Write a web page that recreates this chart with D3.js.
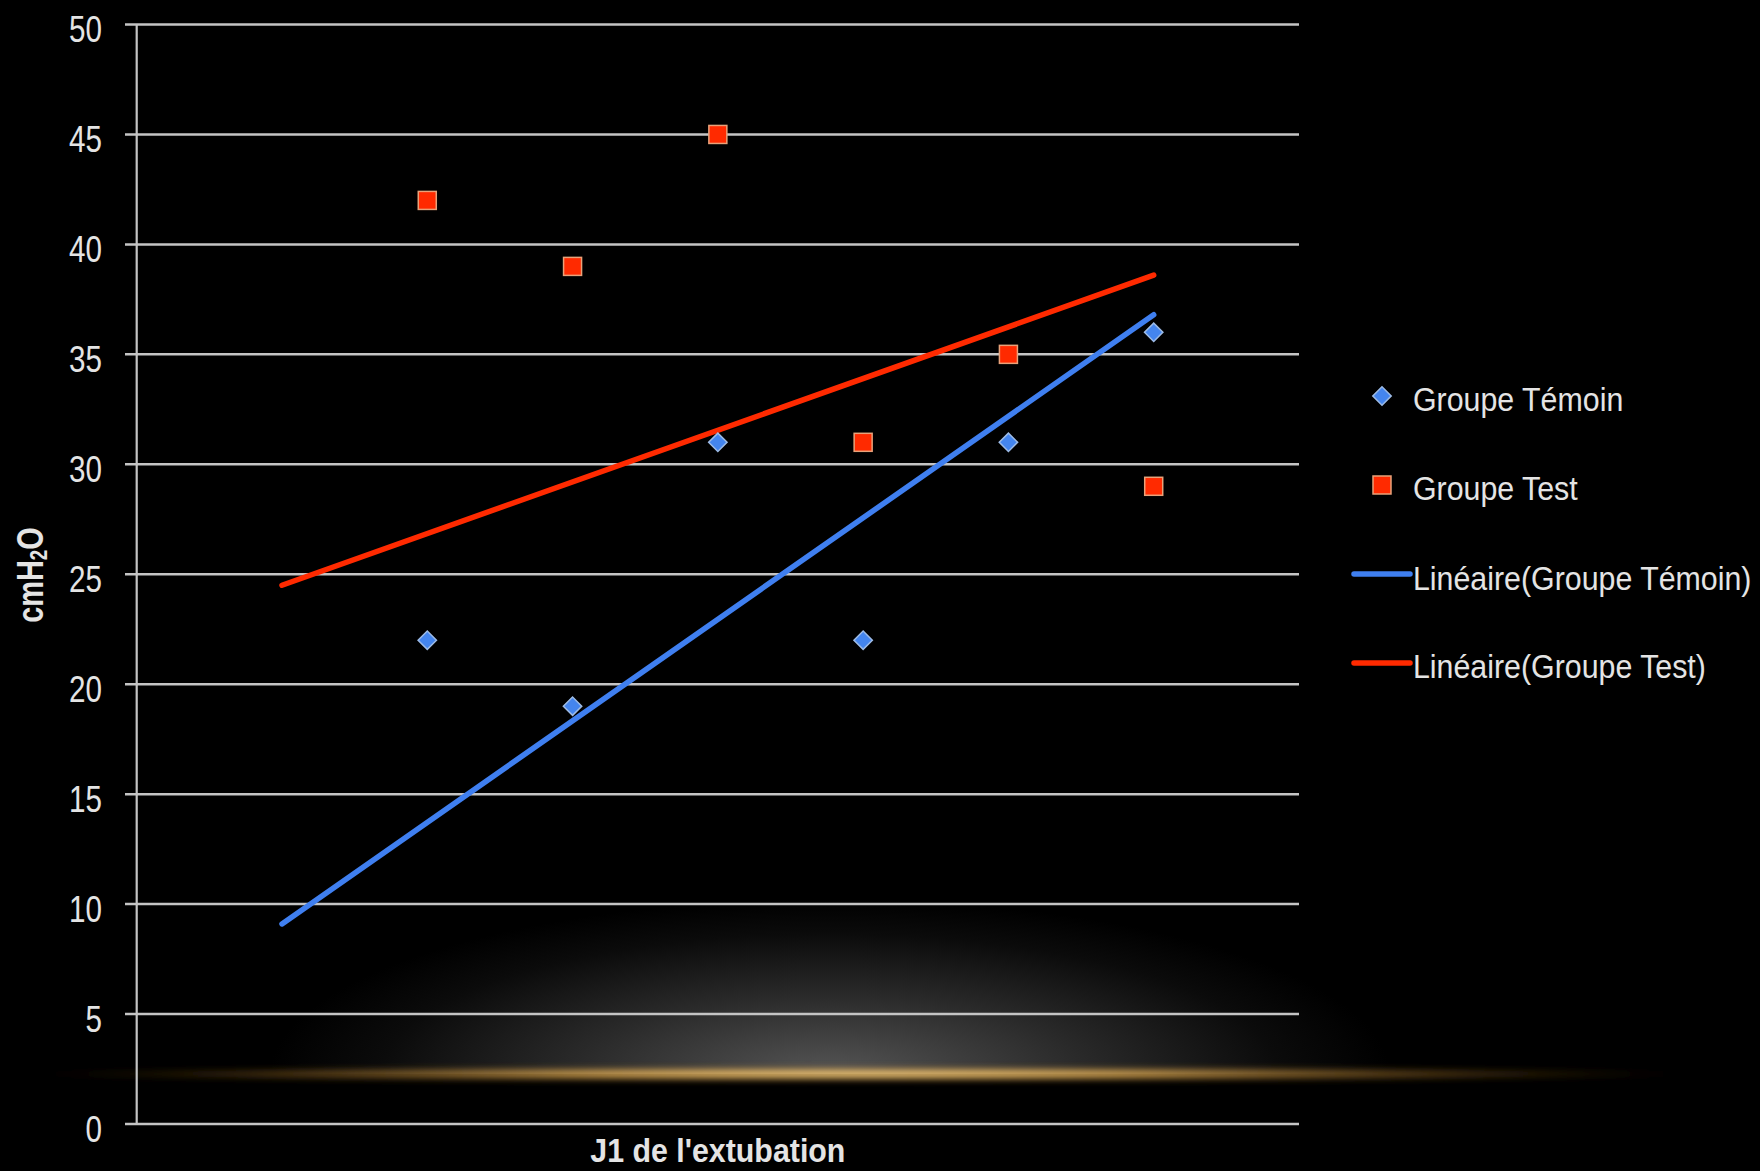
<!DOCTYPE html>
<html>
<head>
<meta charset="utf-8">
<script src="https://cdn.jsdelivr.net/npm/d3@7"></script>
<style>
html,body{margin:0;padding:0;background:#000;}
svg{display:block;}
text{font-family:"Liberation Sans",Arial,sans-serif;fill:#e4e4e4;}
</style>
</head>
<body>
<svg id="chart" width="1760" height="1171"></svg>
<script>
// ---- data ----
const pointX = [1, 2, 3, 4, 5, 6];
const temoin = [22, 19, 31, 22, 31, 36];
const test = [42, 39, 45, 31, 35, 29];
const trendX = [0, 6];
const trendTemoin = [9.1, 36.8];
const trendTest = [24.5, 38.6];
const yTicks = [0, 5, 10, 15, 20, 25, 30, 35, 40, 45, 50];
const xLabel = "J1 de l'extubation";
const legendLabels = ["Groupe Témoin", "Groupe Test", "Linéaire(Groupe Témoin)", "Linéaire(Groupe Test)"];

const colBlue = "#3f7ff0", colRed = "#ff2a00";

const svg = d3.select("#chart");
const W = 1760, H = 1171;
svg.append("rect").attr("width", W).attr("height", H).attr("fill", "#000");

const x = d3.scaleLinear().domain([-1, 7]).range([136.7, 1299]);
const y = d3.scaleLinear().domain([0, 50]).range([1124, 24.5]);

// ---- defs: glow ----
const defs = svg.append("defs");
const g1 = defs.append("radialGradient").attr("id", "grayGlow");
g1.append("stop").attr("offset", "0").attr("stop-color", "#555");
g1.append("stop").attr("offset", "0.45").attr("stop-color", "#2a2a2a");
g1.append("stop").attr("offset", "0.8").attr("stop-color", "#0b0b0b");
g1.append("stop").attr("offset", "1").attr("stop-color", "#000");
const g2 = defs.append("radialGradient").attr("id", "orangeGlow");
g2.append("stop").attr("offset", "0").attr("stop-color", "#fad990").attr("stop-opacity", 1);
g2.append("stop").attr("offset", "0.35").attr("stop-color", "#e0ae58").attr("stop-opacity", 0.9);
g2.append("stop").attr("offset", "0.7").attr("stop-color", "#8f6322").attr("stop-opacity", 0.5);
g2.append("stop").attr("offset", "1").attr("stop-color", "#3a2508").attr("stop-opacity", 0);
defs.append("clipPath").attr("id", "aboveStreak")
  .append("rect").attr("x", 0).attr("y", 0).attr("width", W).attr("height", 1074);
defs.append("filter").attr("id", "blur").attr("x", "-10%").attr("y", "-200%").attr("width", "120%").attr("height", "500%")
  .append("feGaussianBlur").attr("stdDeviation", "1 3");

svg.append("ellipse").attr("clip-path", "url(#aboveStreak)")
  .attr("cx", 830).attr("cy", 1074).attr("rx", 560).attr("ry", 175)
  .attr("fill", "url(#grayGlow)");
svg.append("ellipse").attr("filter", "url(#blur)")
  .attr("cx", 860).attr("cy", 1074).attr("rx", 850).attr("ry", 8)
  .attr("fill", "url(#orangeGlow)");

// ---- gridlines & axis ----
const grid = svg.append("g");
grid.selectAll("line").data(yTicks).join("line")
  .attr("x1", 125).attr("x2", x(7))
  .attr("y1", d => y(d)).attr("y2", d => y(d))
  .attr("stroke", "#c4c4c4").attr("stroke-width", 2.5);
svg.append("line")
  .attr("x1", x(-1)).attr("x2", x(-1)).attr("y1", y(50)).attr("y2", y(0))
  .attr("stroke", "#c4c4c4").attr("stroke-width", 2.2);

function txt(px, py, s, fs, sx, anchor, weight, rot) {
  const t = svg.append("text")
    .attr("transform", `translate(${px},${py})` + (rot ? ` rotate(${rot})` : "") + ` scale(${sx},1)`)
    .attr("text-anchor", anchor).attr("font-size", fs).attr("font-weight", weight || "normal");
  t.text(s);
  return t;
}

yTicks.forEach(v => txt(102, y(v) + 17.5, String(v), 37, 0.8, "end"));

// axis titles
const yl = svg.append("text")
  .attr("transform", "translate(43,575) rotate(-90) scale(0.78,1)")
  .attr("text-anchor", "middle").attr("font-size", 37).attr("font-weight", "bold");
yl.append("tspan").text("cmH");
yl.append("tspan").attr("font-size", 24).attr("dy", 4).text("2");
yl.append("tspan").attr("dy", -4).text("O");

txt(x(3), 1162, xLabel, 33, 0.92, "middle", "bold");

// ---- trend lines ----
const line = d3.line().x(d => x(d[0])).y(d => y(d[1]));
svg.append("path").datum(trendX.map((d, i) => [d, trendTest[i]]))
  .attr("d", line).attr("stroke", colRed).attr("stroke-width", 5.5)
  .attr("stroke-linecap", "round").attr("fill", "none");
svg.append("path").datum(trendX.map((d, i) => [d, trendTemoin[i]]))
  .attr("d", line).attr("stroke", colBlue).attr("stroke-width", 5.5)
  .attr("stroke-linecap", "round").attr("fill", "none");

// ---- markers ----
const sq = 18, dm = 13;
svg.append("g").selectAll("rect").data(pointX.map((d, i) => [d, test[i]])).join("rect")
  .attr("x", d => x(d[0]) - sq / 2).attr("y", d => y(d[1]) - sq / 2)
  .attr("width", sq).attr("height", sq)
  .attr("fill", colRed).attr("stroke", "#e8a27a").attr("stroke-width", 1.5);
svg.append("g").selectAll("rect").data(pointX.map((d, i) => [d, temoin[i]])).join("rect")
  .attr("x", -dm / 2).attr("y", -dm / 2).attr("width", dm).attr("height", dm)
  .attr("transform", d => `translate(${x(d[0])},${y(d[1])}) rotate(45)`)
  .attr("fill", "#4485ee").attr("stroke", "#9dbbe6").attr("stroke-width", 1.5);

// ---- legend ----
const lx = 1382;
svg.append("rect").attr("x", -dm / 2).attr("y", -dm / 2).attr("width", dm).attr("height", dm)
  .attr("transform", `translate(${lx},396) rotate(45)`)
  .attr("fill", "#4485ee").attr("stroke", "#9dbbe6").attr("stroke-width", 1.5);
svg.append("rect").attr("x", lx - sq / 2).attr("y", 485 - sq / 2).attr("width", sq).attr("height", sq)
  .attr("fill", colRed).attr("stroke", "#e8a27a").attr("stroke-width", 1.5);
svg.append("line").attr("x1", 1354).attr("x2", 1410).attr("y1", 574).attr("y2", 574)
  .attr("stroke", colBlue).attr("stroke-width", 5.5).attr("stroke-linecap", "round");
svg.append("line").attr("x1", 1354).attr("x2", 1410).attr("y1", 663).attr("y2", 663)
  .attr("stroke", colRed).attr("stroke-width", 5.5).attr("stroke-linecap", "round");
const legY = [411, 500, 590, 678];
legendLabels.forEach((s, i) => txt(1413, legY[i], s, 33, 0.92, "start"));
</script>
</body>
</html>
